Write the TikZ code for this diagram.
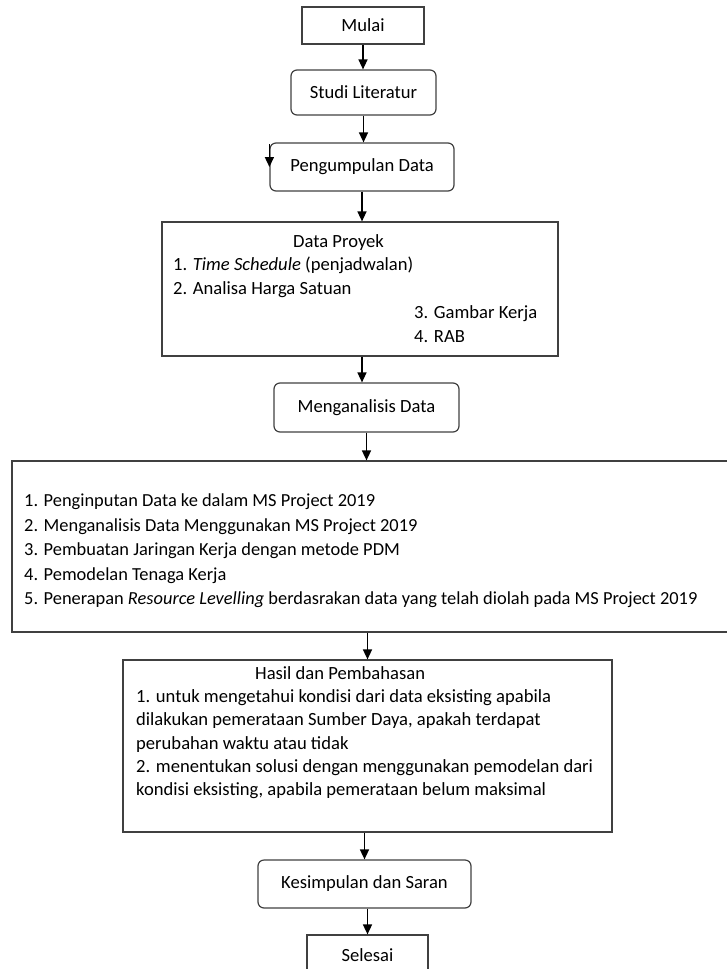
\documentclass[tikz,border=0pt]{standalone}
\usepackage{fontspec}
\setmainfont{Carlito}
\usetikzlibrary{positioning, calc, arrows.meta}

\tikzset{
  kotak/.style={draw=black!75, line width=1.2pt, inner sep=0pt},
  bulat/.style={kotak, rounded corners=6pt},
  isi/.style={align=left, inner sep=0pt, anchor=north west},
  panah/.style={-{Triangle[length=10pt,width=9pt]}, line width=1.5pt},
}

\begin{document}
\begin{tikzpicture}[
  x=1pt, y=-1pt,
  font=\fontsize{18.6}{23.8}\selectfont,
]
\useasboundingbox (0,0) rectangle (727,969);

% ---- alur atas ----
\node[kotak, minimum width=122, minimum height=37] (mulai)   at (363,25.5)  {Mulai};
\node[bulat, minimum width=145, minimum height=45] (studi)   at (363.5,92.5) {Studi Literatur};
\node[bulat, minimum width=184, minimum height=48] (kumpul)  at (362,167)   {Pengumpulan Data};

% ---- data proyek ----
\node[kotak, minimum width=396, minimum height=134] (proyek) at (360,289) {};
\node[isi] (proyekisi) at (173,234) {%
  \hspace*{120pt}Data Proyek\\
  1. \textit{Time Schedule} (penjadwalan)\\
  2. Analisa Harga Satuan\\
  \hspace*{241pt}3. Gambar Kerja\\
  \hspace*{241pt}4. RAB};

\node[bulat, minimum width=185, minimum height=49] (analisis) at (366.5,407.5) {Menganalisis Data};

% ---- tahapan analisis (keluar di kanan) ----
\node[kotak, minimum width=728, minimum height=171] (tahapan) at (376,546.5) {};
\node[isi, font=\fontsize{18.4}{24.5}\selectfont] (tahapanisi) at (24,494) {%
  1. Penginputan Data ke dalam MS Project 2019\\
  2. Menganalisis Data Menggunakan MS Project 2019\\
  3. Pembuatan Jaringan Kerja dengan metode PDM\\
  4. Pemodelan Tenaga Kerja\\
  5. Penerapan \textit{Resource Levelling} berdasrakan data yang telah diolah pada MS Project 2019};

% ---- hasil ----
\node[kotak, minimum width=489, minimum height=172] (hasil) at (367.5,746) {};
\node[isi, font=\fontsize{18.6}{23.3}\selectfont] (hasilisi) at (136,666) {%
  \hspace*{119pt}Hasil dan Pembahasan\\
  1. untuk mengetahui kondisi dari data eksisting apabila\\
  dilakukan pemerataan Sumber Daya, apakah terdapat\\
  perubahan waktu atau tidak\\
  2. menentukan solusi dengan menggunakan pemodelan dari\\
  kondisi eksisting, apabila pemerataan belum maksimal};

\node[bulat, minimum width=213, minimum height=48] (simpul)  at (364.5,884) {Kesimpulan dan Saran};
\node[kotak, minimum width=121, minimum height=40] (selesai) at (367.5,955) {Selesai};

% ---- panah ----
\draw[panah] (mulai.south) -- (mulai.south |- studi.north);
\draw[panah] (studi.south) -- (studi.south |- kumpul.north);
\draw[panah] (kumpul.south) -- (kumpul.south |- proyek.north);
\draw[panah] ([xshift=2pt]proyek.south) -- ([xshift=2pt]proyek.south |- analisis.north);
\draw[panah] (analisis.south) -- (analisis.south |- tahapan.north);
\draw[panah] (hasil.north |- tahapan.south) -- (hasil.north);
\draw[panah] (simpul.north |- hasil.south) -- (simpul.north);
\draw[panah] (selesai.north |- simpul.south) -- (selesai.north);
% panah kecil di tepi kiri
\draw[panah] ([yshift=-2pt]kumpul.north west) -- (kumpul.west);

\end{tikzpicture}
\end{document}
